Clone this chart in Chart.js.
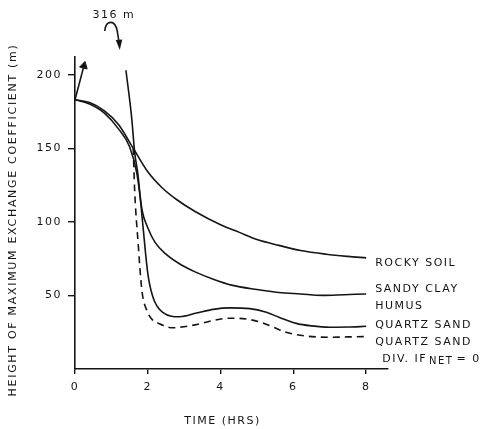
<!DOCTYPE html>
<html>
<head>
<meta charset="utf-8">
<script src="https://cdn.jsdelivr.net/npm/chart.js@4/dist/chart.umd.min.js"></script>
<style>
  html, body { margin: 0; padding: 0; background: #ffffff; }
  #wrap { width: 489px; height: 429px; }
</style>
</head>
<body>
<div id="wrap"><canvas id="c" width="489" height="429"></canvas></div>
<script>
// ---- data ----
const xTicks = [0, 2, 4, 6, 8];
const yTicks = [50, 100, 150, 200];

const hoursRocky = [0, 0.4, 0.8, 1.2, 1.6, 2.0, 2.4, 2.8, 3.3, 4.0, 4.5, 5.0, 5.6, 6.2, 6.9, 7.5, 8.0];
const rockySoil  = [183, 181, 175.5, 166, 150, 134, 123, 115, 107, 98, 93, 88, 84, 80.5, 78, 76.5, 75.5];

const hoursSandy = [0, 0.4, 0.8, 1.2, 1.5, 1.7, 1.85, 2.0, 2.2, 2.5, 2.9, 3.3, 3.8, 4.3, 5.0, 5.6, 6.2, 6.8, 7.4, 8.0];
const sandyClayHumus = [183, 180, 174, 163, 151, 133, 107, 96, 86, 78, 71, 66, 61, 57, 54, 52, 51, 50, 50.5, 51];

// quartz sand first rises far off the chart (peak 316 m), drawn as an arrow and a returning line
const hoursQuartzRise = [0, 0.245];
const quartzRise      = [183, 206];

const hoursQuartz = [1.40, 1.56, 1.64, 1.73, 1.86, 2.0, 2.14, 2.41, 2.88, 3.34, 3.8, 4.25, 4.8, 5.26, 5.62, 6.08, 6.5, 7.0, 7.5, 8.0];
const quartzSand  = [203, 170, 147, 132, 99, 65, 49, 38.5, 35.5, 38, 40.5, 41.5, 41, 38.5, 35, 31, 29.3, 28.4, 28.5, 29];

const hoursQuartzDiv = [1.60, 1.64, 1.73, 1.84, 1.97, 2.14, 2.25, 2.68, 2.88, 3.3, 3.8, 4.25, 4.7, 5.07, 5.4, 5.8, 6.3, 7.0, 7.5, 8.0];
const quartzSandDiv  = [150, 121, 87, 53, 40, 33, 31.5, 28, 28.4, 30, 33, 34.5, 34, 32, 29, 25, 22.5, 21.6, 21.8, 22];

const peakLabel = '316 m';
const seriesLabels = ['ROCKY SOIL', 'SANDY CLAY', 'HUMUS', 'QUARTZ SAND', 'QUARTZ SAND'];
const xTitle = 'TIME (HRS)';
const yTitle = 'HEIGHT OF MAXIMUM EXCHANGE COEFFICIENT (m)';

// ---- helpers ----
const pts = (xs, ys) => xs.map((x, i) => ({ x: x, y: ys[i] }));
const INK = '#151515';
const FONT = '"DejaVu Sans", "Liberation Sans", sans-serif';

const lineBase = {
  borderColor: INK,
  borderWidth: 1.6,
  pointRadius: 0,
  fill: false,
  cubicInterpolationMode: 'monotone'
};

const annotations = {
  id: 'annotations',
  beforeDraw(chart) { chart.ctx.letterSpacing = '1.5px'; },
  afterDraw(chart) {
    const ctx = chart.ctx;
    const xs = chart.scales.x, ys = chart.scales.y;
    const area = chart.chartArea;
    ctx.save();
    ctx.letterSpacing = '1.5px';
    ctx.fillStyle = INK;
    ctx.strokeStyle = INK;
    ctx.font = '11px ' + FONT;
    ctx.textBaseline = 'middle';
    ctx.textAlign = 'center';

    // axis titles
    ctx.fillText(xTitle, (area.left + area.right) / 2 - 9, chart.height - 8);
    ctx.save();
    ctx.translate(13, (area.top + area.bottom) / 2 + 7);
    ctx.rotate(-Math.PI / 2);
    ctx.letterSpacing = '1.7px';
    ctx.fillText(yTitle, 0, 0);
    ctx.restore();

    // "316 m" label with curved arrow pointing at the returning quartz line
    const lx = xs.getPixelForValue(1.07);
    const ly = area.top - 42;
    ctx.fillText(peakLabel, lx, ly);
    const tipX = xs.getPixelForValue(1.23);
    const tipY = area.top - 7;
    ctx.lineWidth = 1.6;
    ctx.beginPath();
    ctx.moveTo(tipX - 15, tipY - 19);
    ctx.bezierCurveTo(tipX - 14, tipY - 30, tipX - 5, tipY - 31, tipX - 2.5, tipY - 19);
    ctx.lineTo(tipX - 0.8, tipY - 8);
    ctx.stroke();
    ctx.beginPath();
    ctx.moveTo(tipX, tipY);
    ctx.lineTo(tipX - 4, tipY - 10);
    ctx.lineTo(tipX + 2.5, tipY - 10.5);
    ctx.closePath();
    ctx.fill();

    // series labels at the right ends of the curves
    ctx.textAlign = 'left';
    const tx = xs.getPixelForValue(8) + 9;
    const labY = [72, 54, 43, 30, 18];
    seriesLabels.forEach((t, i) => ctx.fillText(t, tx, ys.getPixelForValue(labY[i])));
    // DIV. IF_NET = 0
    const dy = ys.getPixelForValue(7);
    ctx.fillText('DIV. IF', tx + 7, dy);
    const w = ctx.measureText('DIV. IF').width;
    ctx.font = '10px ' + FONT;
    ctx.fillText('NET', tx + 7 + w + 2, dy + 3);
    const w2 = ctx.measureText('NET').width;
    ctx.font = '11px ' + FONT;
    ctx.fillText('= 0', tx + 7 + w + 2 + w2 + 3, dy);
    ctx.restore();
    ctx.letterSpacing = '0px';
  }
};

new Chart(document.getElementById('c'), {
  type: 'line',
  data: {
    datasets: [
      Object.assign({ label: 'Rocky soil', data: pts(hoursRocky, rockySoil) }, lineBase),
      Object.assign({ label: 'Sandy clay humus', data: pts(hoursSandy, sandyClayHumus) }, lineBase),
      Object.assign({}, lineBase, {
        label: 'Quartz sand (rise)',
        data: pts(hoursQuartzRise, quartzRise),
        cubicInterpolationMode: 'default',
        tension: 0,
        clip: false,
        pointStyle: 'triangle',
        rotation: 14,
        pointRadius: (c) => c.dataIndex === 1 ? 4.5 : 0,
        pointBackgroundColor: INK,
        pointBorderColor: INK,
        pointBorderWidth: 1
      }),
      Object.assign({ label: 'Quartz sand', data: pts(hoursQuartz, quartzSand) }, lineBase),
      Object.assign({}, lineBase, {
        label: 'Quartz sand, div. F_net = 0',
        data: pts(hoursQuartzDiv, quartzSandDiv),
        borderDash: [7, 5]
      })
    ]
  },
  options: {
    responsive: false,
    devicePixelRatio: 1,
    animation: false,
    layout: { padding: { top: 57, right: 101, left: 0, bottom: 0 } },
    plugins: { legend: { display: false }, tooltip: { enabled: false } },
    scales: {
      x: {
        type: 'linear',
        min: 0,
        max: 8.6,
        border: { color: INK, width: 1.6 },
        grid: { drawOnChartArea: false, drawTicks: true, tickLength: 5, color: INK, lineWidth: 1.4 },
        ticks: { stepSize: 2, includeBounds: false, color: INK, padding: 7, maxRotation: 0,
                 font: { family: FONT, size: 11 } },
        afterBuildTicks: (s) => { s.ticks = xTicks.map(v => ({ value: v })); },
        afterFit: (s) => { s.height = 60; },
        title: { display: false }
      },
      y: {
        type: 'linear',
        min: 0,
        max: 212,
        border: { color: INK, width: 1.6 },
        grid: { drawOnChartArea: false, drawTicks: true, tickLength: 7, color: INK, lineWidth: 1.4 },
        ticks: { includeBounds: false, color: INK, padding: 6,
                 font: { family: FONT, size: 11 } },
        afterBuildTicks: (s) => { s.ticks = yTicks.map(v => ({ value: v })); },
        afterFit: (s) => { s.width = 75; },
        title: { display: false }
      }
    }
  },
  plugins: [annotations]
});
</script>
</body>
</html>
